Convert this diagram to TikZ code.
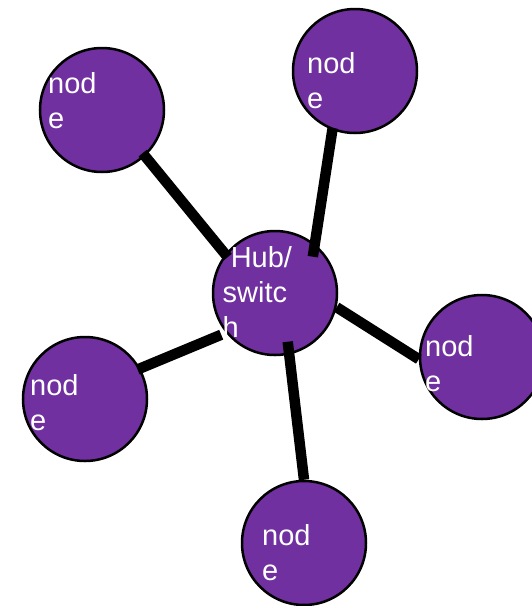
\documentclass[tikz,border=0pt]{standalone}
\usepackage{fontspec}
\setmainfont{Liberation Sans}
\usepackage{tikz}
\definecolor{hubpurple}{HTML}{7030A0}

\begin{document}
\begin{tikzpicture}[x=1pt,y=-1pt,
    station/.style={circle,draw=black,line width=2.5pt,fill=hubpurple,minimum size=124pt,inner sep=0pt},
    cable/.style={line width=10.5pt,black},
    tag/.style={anchor=base west,align=left,inner sep=0pt,text=white,font=\fontsize{29}{35}\selectfont}]
      \useasboundingbox (0,0) rectangle (531,606);
      % circles
      \node[station] (hub) at (275,293) {};
      \node[station] (tl) at (102,110) {};
      \node[station] (tr) at (355,71) {};
      \node[station] (rt) at (482,357) {};
      \node[station] (lf) at (85,399) {};
      \node[station] (bt) at (304,543) {};
      % cables
      \draw[cable,shorten <=-4pt,shorten >=-4pt] (hub.142) -- (tl.313);
      \draw[cable,shorten <=-13pt,shorten >=-2pt] (hub.51) -- (tr.249);
      \draw[cable] (hub.-13) -- (rt.182);
      \draw[cable,shorten <=5pt,shorten >=-3pt] (hub.219) -- (lf.29);
      \draw[cable,shorten <=-13pt] (hub.283) -- (bt.90);
      % labels (base = last line)
      \node[tag] (hubtext) at (222.5,337) {~Hub/\\switc\\h};
      \node[tag] (tltext) at (48,128) {nod\\e};
      \node[tag] (trtext) at (307,108) {nod\\e};
      \node[tag] (rttext) at (425,391.5) {nod\\e};
      \node[tag] (lftext) at (30,430) {nod\\e};
      \node[tag] (bttext) at (262,580) {nod\\e};
    \end{tikzpicture}
\end{document}
